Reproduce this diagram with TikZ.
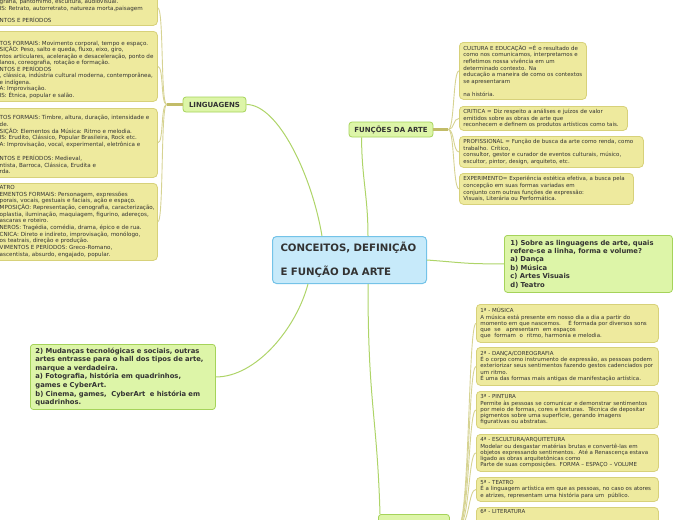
\documentclass[tikz,border=0pt]{standalone}
\usepackage{fontspec}
\setmainfont{DejaVu Sans}
\definecolor{ybfill}{HTML}{EEEA9E}
\definecolor{ybdraw}{HTML}{D7D17A}
\definecolor{gfill}{HTML}{DDF5A8}
\definecolor{gdraw}{HTML}{A5D35A}
\definecolor{bfill}{HTML}{C7EAFA}
\definecolor{bdraw}{HTML}{74C3E8}
\definecolor{ink}{HTML}{333333}
\definecolor{connc}{HTML}{AED468}
\definecolor{stubc}{HTML}{C2BC68}
\definecolor{fanc}{HTML}{D6D392}
\tikzset{
 ybox/.style={draw=ybdraw, fill=ybfill, line width=0.8pt, rounded corners=4pt, anchor=north west, align=left, inner xsep=4pt, inner ysep=1pt, font=\fontsize{5.5}{6.6}\selectfont, text=ink},
 yempty/.style={draw=ybdraw, fill=ybfill, line width=0.8pt, rounded corners=4pt, anchor=north west, inner sep=0pt},
 ltxt/.style={anchor=north west, align=left, inner sep=0pt, font=\fontsize{5.6}{6.7}\selectfont, text=ink},
 gbox/.style={draw=gdraw, fill=gfill, line width=0.8pt, rounded corners=3pt, text=ink, align=left, anchor=north west},
 gq/.style={gbox, font=\bfseries\fontsize{6.8}{8.4}\selectfont},
 glab/.style={draw=gdraw, fill=gfill, line width=0.8pt, rounded corners=3pt, text=ink, font=\bfseries\fontsize{7}{8}\selectfont, inner sep=0pt},
 cbox/.style={draw=bdraw, fill=bfill, line width=1pt, rounded corners=4pt, text=ink, font=\bfseries\fontsize{10.2}{12}\selectfont, align=left, anchor=north west, inner xsep=8pt},
 mainc/.style={draw=connc, line width=1pt},
 stubl/.style={draw=stubc, line width=2.2pt},
 fanl/.style={draw=fanc, line width=0.9pt},
}
\begin{document}
\begin{tikzpicture}[x=1pt,y=-1pt]
\useasboundingbox (0,0) rectangle (697,520);
\clip (0,0) rectangle (697,520);

% central node
\node[cbox, minimum width=154pt, minimum height=47pt, text width=138pt] (cen) at (272,236) {CONCEITOS, DEFINIÇÃO\\[12pt]E FUNÇÃO DA ARTE};

% green label nodes
\node[glab, minimum width=63pt, minimum height=15pt] (ling) at (214.5,104.5) {LINGUAGENS};
\node[glab, minimum width=84pt, minimum height=15pt] (func) at (391,129.5) {FUNÇÕES DA ARTE};
\node[gbox, minimum width=71pt, minimum height=26pt] (bot) at (378,514) {};

% questions
\node[gq, minimum width=168pt, minimum height=57pt, text width=156pt, inner xsep=6pt] (q1) at (504,235) {1) Sobre as linguagens de arte, quais\\refere-se a linha, forma e volume?\\a) Dança\\b) Música\\c) Artes Visuais\\d) Teatro};
\node[gq, minimum width=185pt, minimum height=65pt, text width=175pt, inner xsep=5pt, font=\bfseries\fontsize{6.8}{8.6}\selectfont] (q2) at (30,344) {2) Mudanças tecnológicas e sociais, outras\\artes entrasse para o hall dos tipos de arte,\\marque a verdadeira.\\a) Fotografia, história em quadrinhos,\\games e CyberArt.\\b) Cinema, games,\ \ CyberArt\ \ e história em\\quadrinhos.};

% left boxes (cut at the left edge)
\node[yempty, minimum width=162pt, minimum height=35pt] (lb1) at (-5,-10) {};
\node[ltxt] (lt1) at (-0.5,-0.5) {grafia, pantomimo, escultura, audiovisual.\\IS: Retrato, autorretrato, natureza morta,paisagem\\[5pt]NTOS E PERÍODOS};
\node[yempty, minimum width=162pt, minimum height=70pt] (lb2) at (-5,31) {};
\node[ltxt, font=\fontsize{5.6}{6.5}\selectfont] (lt2) at (-0.5,41) {TOS FORMAIS: Movimento corporal, tempo e espaço.\\SIÇÃO: Peso, salto e queda, fluxo, eixo, giro,\\ntos articulares, aceleração e desaceleração, ponto de\\lanos, coreografia, rotação e formação.\\NTOS E PERÍODOS\\, clássica, indústria cultural moderna, contemporânea,\\e indígena.\\A: Improvisação.\\IS: Étnica, popular e salão.};
\node[yempty, minimum width=162pt, minimum height=69pt] (lb3) at (-5,108) {};
\node[ltxt, font=\fontsize{5.6}{6.8}\selectfont] (lt3) at (-0.5,115) {TOS FORMAIS: Timbre, altura, duração, intensidade e\\de.\\SIÇÃO: Elementos da Música: Ritmo e melodia.\\IS: Erudito, Clássico, Popular Brasileira, Rock etc.\\A: Improvisação, vocal, experimental, eletrônica e\\[6.8pt]NTOS E PERÍODOS: Medieval,\\ntista, Barroca, Clássica, Erudita e\\rda.};
\node[yempty, minimum width=162pt, minimum height=77pt] (lb4) at (-5,183) {};
\node[ltxt] (lt4) at (-0.5,185) {ATRO\\EMENTOS FORMAIS: Personagem, expressões\\porais, vocais, gestuais e faciais, ação e espaço.\\MPOSIÇÃO: Representação, cenografia, caracterização,\\oplastia, iluminação, maquiagem, figurino, adereços,\\ascaras e roteiro.\\NEROS: Tragédia, comédia, drama, épico e de rua.\\CNICA: Direto e indireto, improvisação, monólogo,\\os teatrais, direção e produção.\\VIMENTOS E PERÍODOS: Greco-Romano,\\ascentista, absurdo, engajado, popular.};

% right boxes (functions)
\node[ybox, minimum height=57pt, text width=119pt] (cult) at (459,42) {CULTURA E EDUCAÇÃO =É o resultado de\\como nos comunicamos, interpretamos e\\refletimos nossa vivência em um\\determinado contexto. Na\\educação a maneira de como os contextos\\se apresentaram\\[6.6pt]na história.};
\node[ybox, minimum height=24pt, text width=160pt] (crit) at (459,106) {CRITICA = Diz respeito a análises e juízos de valor\\emitidos sobre as obras de arte que\\reconhecem e definem os produtos artísticos como tais.};
\node[ybox, minimum height=31pt, text width=176pt] (prof) at (459,136) {PROFISSIONAL = Função de busca da arte como renda, como\\trabalho. Crítico,\\consultor, gestor e curador de eventos culturais, músico,\\escultor, pintor, design, arquiteto, etc.};
\node[ybox, minimum height=31pt, text width=166pt] (expe) at (459,173) {EXPERIMENTO= Experiência estética efetiva, a busca pela\\concepção em suas formas variadas em\\conjunto com outras funções de expressão:\\Visuais, Literária ou Performática.};

% bottom right boxes
\tikzset{mbox/.style={ybox, text width=174pt, font=\fontsize{5.5}{6.3}\selectfont}}
\node[mbox, minimum height=38pt] (m1) at (476,304) {1ª - MÚSICA\\A música está presente em nosso dia a dia a partir do\\momento em que nascemos.\ \ \ \ É formada por diversos sons\\que\ \ se\ \ \ apresentam\ \ em espaços\\que\ \ formam\ \ o\ \ ritmo, harmonia e melodia.};
\node[mbox, minimum height=38pt] (m2) at (476,347) {2ª - DANÇA/COREOGRAFIA\\É o corpo como instrumento de expressão, as pessoas podem\\exteriorizar seus sentimentos fazendo gestos cadenciados por\\um ritmo.\\É uma das formas mais antigas de manifestação artística.};
\node[mbox, minimum height=37pt] (m3) at (476,391) {3ª - PINTURA\\Permite às pessoas se comunicar e demonstrar sentimentos\\por meio de formas, cores e texturas.\ \ Técnica de depositar\\pigmentos sobre uma superfície, gerando imagens\\figurativas ou abstratas.};
\node[mbox, minimum height=37pt] (m4) at (476,434) {4ª - ESCULTURA/ARQUITETURA\\Modelar ou desgastar matérias brutas e convertê-las em\\objetos expressando sentimentos.\ \ Até a Renascença estava\\ligado as obras arquitetônicas como\\Parte de suas composições. FORMA – ESPAÇO – VOLUME};
\node[mbox, minimum height=24pt] (m5) at (476,477) {5ª - TEATRO\\É a linguagem artística em que as pessoas, no caso os atores\\e atrizes, representam uma história para um\ \ público.};
\node[mbox, inner ysep=2pt, text depth=22pt] (m6) at (476,507) {6ª - LITERATURA};

% main connectors
\draw[mainc] (ling.east) .. controls +(32,0) and +(-10,-60) .. ([xshift=50pt]cen.north west);
\draw[mainc] ([xshift=13pt]func.south west) .. controls +(0,40) and +(0,-40) .. ([xshift=96pt]cen.north west);
\draw[mainc] (cen.east) .. controls +(40,3) and +(-40,0) .. (q1.west);
\draw[mainc] ([xshift=36pt]cen.south west) .. controls +(-12,45) and +(40,0) .. (q2.east);
\draw[mainc] ([xshift=96pt]cen.south west) .. controls +(0,120) and +(-3,-100) .. ([xshift=2pt]bot.north west);

% fans from LINGUAGENS
\draw[stubl] (ling.west) -- ++(-16,0) coordinate (lf);
\foreach \b in {lb1,lb2,lb3,lb4}
  \draw[fanl] (lf) .. controls +(-6,0) and +(6,0) .. (\b.east);
% fans from FUNCOES
\draw[stubl] (func.east) -- ++(15,0) coordinate (ff);
\foreach \b in {cult,crit,prof,expe}
  \draw[fanl] (ff) .. controls +(6,0) and +(-6,0) .. (\b.west);
% fans from bottom node
\draw[stubl] (bot.east) -- ++(8,0) coordinate (bf);
\foreach \b in {m1,m2,m3,m4,m5}
  \draw[fanl] (bf) .. controls +(12,0) and +(-8,0) .. (\b.west);
\draw[fanl] (bf) .. controls +(12,0) and +(-8,0) .. ([yshift=-12pt]m6.south west);
\end{tikzpicture}
\end{document}
